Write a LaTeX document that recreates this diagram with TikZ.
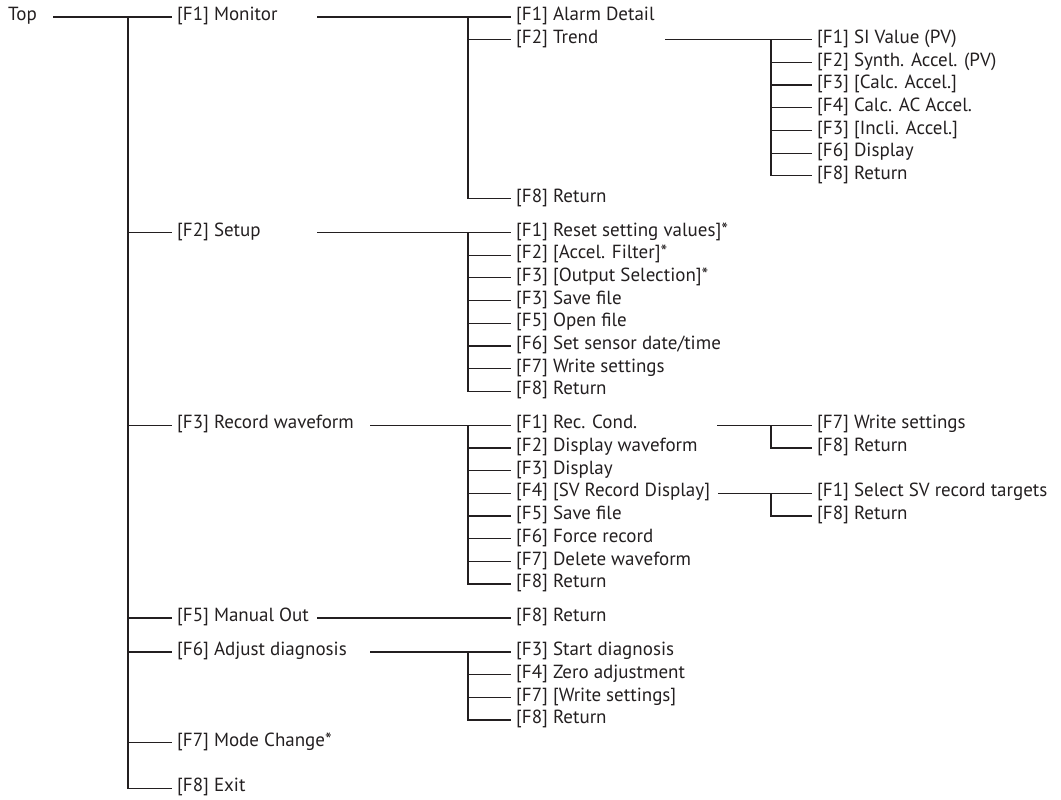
\documentclass[tikz,border=0pt]{standalone}
\usepackage{fontspec}
\setmainfont{PT Sans}
\definecolor{ink}{RGB}{35,31,32}
\begin{document}
\begin{tikzpicture}[x=1pt,y=-1pt,
  lbl/.style={anchor=west, inner xsep=5pt, inner ysep=0pt, text height=0.95em, text depth=0.2em,
              font=\fontsize{19}{23}\selectfont, text=ink},
  wire/.style={draw=ink, line width=1.2pt}]
\useasboundingbox (0,0) rectangle (1061,800);

% ---- level 0 / 1
\node[lbl] (top) at (3,17) {Top};
\node[lbl] (mon)  at (172,17)    {[F1] Monitor};
\node[lbl] (set)  at (172,232.5) {[F2] Setup};
\node[lbl] (rec)  at (172,425.2) {[F3] Record waveform};
\node[lbl] (man)  at (172,618.0) {[F5] Manual Out};
\node[lbl] (adj)  at (172,652.0) {[F6] Adjust diagnosis};
\node[lbl] (mode) at (172,742.8) {[F7] Mode Change*};
\node[lbl] (exit) at (172,788.1) {[F8] Exit};

% ---- Monitor children
\node[lbl] (mal) at (511,17)    {[F1] Alarm Detail};
\node[lbl] (mtr) at (511,39.7)  {[F2] Trend};
\node[lbl] (mrt) at (511,198.4) {[F8] Return};
% ---- Trend children
\node[lbl] (t1) at (812,39.7)  {[F1] SI Value (PV)};
\node[lbl] (t2) at (812,62.4)  {[F2] Synth. Accel. (PV)};
\node[lbl] (t3) at (812,85.0)  {[F3] [Calc. Accel.]};
\node[lbl] (t4) at (812,107.7) {[F4] Calc. AC Accel.};
\node[lbl] (t5) at (812,130.4) {[F3] [Incli. Accel.]};
\node[lbl] (t6) at (812,153.1) {[F6] Display};
\node[lbl] (t7) at (812,175.8) {[F8] Return};

% ---- Setup children
\node[lbl] (s1) at (511,232.5) {[F1] Reset setting values]*};
\node[lbl] (s2) at (511,255.1) {[F2] [Accel. Filter]*};
\node[lbl] (s3) at (511,277.8) {[F3] [Output Selection]*};
\node[lbl] (s4) at (511,300.5) {[F3] Save file};
\node[lbl] (s5) at (511,323.2) {[F5] Open file};
\node[lbl] (s6) at (511,345.9) {[F6] Set sensor date/time};
\node[lbl] (s7) at (511,368.5) {[F7] Write settings};
\node[lbl] (s8) at (511,391.2) {[F8] Return};

% ---- Record waveform children
\node[lbl] (r1) at (511,425.2) {[F1] Rec. Cond.};
\node[lbl] (r2) at (511,447.9) {[F2] Display waveform};
\node[lbl] (r3) at (511,470.6) {[F3] Display};
\node[lbl] (r4) at (511,493.2) {[F4] [SV Record Display]};
\node[lbl] (r5) at (511,515.9) {[F5] Save file};
\node[lbl] (r6) at (511,538.6) {[F6] Force record};
\node[lbl] (r7) at (511,561.3) {[F7] Delete waveform};
\node[lbl] (r8) at (511,584.0) {[F8] Return};
% Rec. Cond. children
\node[lbl] (c1) at (812,425.2) {[F7] Write settings};
\node[lbl] (c2) at (812,447.9) {[F8] Return};
% SV Record Display children
\node[lbl] (v1) at (812,493.2) {[F1] Select SV record targets};
\node[lbl] (v2) at (812,515.9) {[F8] Return};

% ---- Manual Out child
\node[lbl] (mo1) at (511,618.0) {[F8] Return};

% ---- Adjust diagnosis children
\node[lbl] (a1) at (511,652.0) {[F3] Start diagnosis};
\node[lbl] (a2) at (511,674.7) {[F4] Zero adjustment};
\node[lbl] (a3) at (511,697.4) {[F7] [Write settings]};
\node[lbl] (a4) at (511,720.0) {[F8] Return};

% ---- stub start points and branch points
\coordinate (topS) at (53,17);
\coordinate (trk)  at (128,17);
\coordinate (monS) at (317,17);    \coordinate (monB) at (468,17);
\coordinate (setS) at (317,232.5); \coordinate (setB) at (468,232.5);
\coordinate (recS) at (370,425.2); \coordinate (recB) at (468,425.2);
\coordinate (manS) at (317,618.0);
\coordinate (adjS) at (370,652.0); \coordinate (adjB) at (468,652.0);
\coordinate (trS)  at (665,39.7);  \coordinate (trB)  at (771,39.7);
\coordinate (rcS)  at (717,425.2); \coordinate (rcB)  at (771,425.2);
\coordinate (svS)  at (718,493.2); \coordinate (svB)  at (771,493.2);

% ---- connectors
\draw[wire] (topS) -- (mon.west);
\draw[wire] (trk) |- (exit.west);
\foreach \n in {set,rec,man,adj,mode} \draw[wire] (trk |- \n.west) -- (\n.west);

\draw[wire] (monS) -- (mal.west);
\draw[wire] (monB) |- (mrt.west);
\draw[wire] (monB |- mtr.west) -- (mtr.west);

\draw[wire] (trS) -- (t1.west);
\draw[wire] (trB) |- (t7.west);
\foreach \n in {t2,t3,t4,t5,t6} \draw[wire] (trB |- \n.west) -- (\n.west);

\draw[wire] (setS) -- (s1.west);
\draw[wire] (setB) |- (s8.west);
\foreach \n in {s2,s3,s4,s5,s6,s7} \draw[wire] (setB |- \n.west) -- (\n.west);

\draw[wire] (recS) -- (r1.west);
\draw[wire] (recB) |- (r8.west);
\foreach \n in {r2,r3,r4,r5,r6,r7} \draw[wire] (recB |- \n.west) -- (\n.west);

\draw[wire] (rcS) -- (c1.west);
\draw[wire] (rcB) |- (c2.west);
\draw[wire] (svS) -- (v1.west);
\draw[wire] (svB) |- (v2.west);

\draw[wire] (manS) -- (mo1.west);

\draw[wire] (adjS) -- (a1.west);
\draw[wire] (adjB) |- (a4.west);
\foreach \n in {a2,a3} \draw[wire] (adjB |- \n.west) -- (\n.west);
\end{tikzpicture}
\end{document}
